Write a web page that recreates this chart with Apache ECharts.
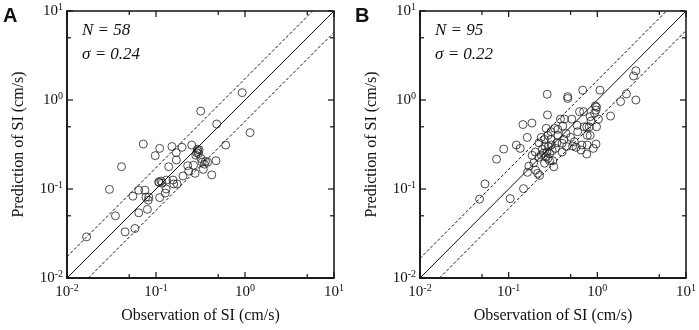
<!DOCTYPE html>
<html>
<head>
<meta charset="utf-8">
<script src="https://cdn.jsdelivr.net/npm/echarts@6/dist/echarts.min.js"></script>
<style>html,body{margin:0;padding:0;background:#fff}#c{width:699px;height:330px}</style>
</head>
<body>
<div id="c"></div>
<script>
// ---- data ----
var panelLabels = ['A', 'B'];
var nCounts = [58, 95];
var sigmas = [0.24, 0.22];
var majorTicks = [0.01, 0.1, 1, 10];
var minorTicks = [0.05, 0.5, 5];
var xTitle = 'Observation of SI (cm/s)';
var yTitle = 'Prediction of SI (cm/s)';

var obsA = [0.0166,0.030,0.035,0.041,0.045,0.058,0.055,0.064,0.064,0.075,0.077,0.080,0.083,0.082,0.072,0.098,0.110,0.110,0.107,0.109,0.114,0.117,0.127,0.130,0.131,0.139,0.151,0.155,0.158,0.169,0.169,0.173,0.196,0.201,0.227,0.233,0.252,0.264,0.275,0.286,0.295,0.300,0.305,0.292,0.33,0.35,0.36,0.38,0.34,0.423,0.472,0.607,0.93,0.318,0.481,1.14,0.28,0.32];
var predA = [0.029,0.099,0.050,0.178,0.033,0.036,0.083,0.097,0.054,0.097,0.081,0.059,0.081,0.075,0.32,0.237,0.286,0.080,0.120,0.118,0.123,0.116,0.090,0.100,0.126,0.178,0.30,0.126,0.114,0.256,0.212,0.114,0.294,0.140,0.183,0.159,0.312,0.185,0.150,0.256,0.265,0.250,0.275,0.280,0.20,0.19,0.205,0.20,0.166,0.144,0.208,0.312,1.21,0.75,0.537,0.43,0.24,0.22];

var obsB = [0.047,0.054,0.073,0.088,0.104,0.122,0.135,0.147,0.163,0.169,0.184,0.192,0.201,0.212,0.223,0.219,0.233,0.247,0.254,0.256,0.277,0.289,0.302,0.315,0.323,0.337,0.401,0.401,0.527,0.575,0.655,0.671,0.76,0.77,0.90,0.966,0.272,0.463,0.463,0.684,1.07,2.72,2.56,2.13,1.83,2.72,1.41,0.95,0.98,0.966,0.93,1.03,0.83,0.63,0.70,0.274,0.384,0.426,0.515,0.145,0.183,0.162,0.265,0.233,0.254,0.277,0.30,0.33,0.358,0.407,0.444,0.59,0.71,0.76,0.81,0.98,0.60,0.77,0.83,0.24,0.27,0.29,0.31,0.26,0.35,0.36,0.30,0.22,0.28,0.50,0.45,0.55,0.85,0.20,0.42];
var predB = [0.077,0.114,0.216,0.281,0.078,0.312,0.286,0.101,0.154,0.181,0.239,0.197,0.163,0.150,0.142,0.227,0.241,0.252,0.195,0.304,0.221,0.208,0.312,0.208,0.178,0.286,0.260,0.327,0.304,0.294,0.274,0.312,0.247,0.312,0.286,0.32,1.16,1.09,1.04,1.29,1.29,2.13,1.86,1.17,0.96,1.0,0.66,0.86,0.83,0.77,0.71,0.61,0.65,0.74,0.74,0.68,0.61,0.61,0.61,0.53,0.55,0.38,0.48,0.38,0.36,0.40,0.44,0.48,0.468,0.51,0.42,0.52,0.50,0.50,0.50,0.50,0.44,0.40,0.40,0.28,0.26,0.25,0.27,0.23,0.33,0.40,0.36,0.33,0.30,0.38,0.30,0.34,0.58,0.26,0.36];

var axisMin = 0.01, axisMax = 10;
// ---- chart (log10 value axes) ----
var L = Math.log10;
var LO = L(axisMin), HI = L(axisMax);
var serif = '"Liberation Serif", "Times New Roman", serif';
var gridLefts = [67, 420];
var grids = [], xAxes = [], yAxes = [], series = [], graphics = [];
var black = '#111';
var tickData = majorTicks.map(function (v) { return [L(v), 1]; })
  .concat(minorTicks.map(function (v) { return [L(v), 0]; }));

function lblFmt(v) {
  return '{b|10}{s|' + Math.round(v) + '}';
}
var richLbl = {
  b: { fontFamily: serif, fontSize: 15, color: black, lineHeight: 18 },
  s: { fontFamily: serif, fontSize: 10, color: black, verticalAlign: 'top', lineHeight: 18, padding: [0, 0, 6, 0] }
};

function mkAxis(dim, gi) {
  return {
    type: 'value', min: LO, max: HI, interval: 1, gridIndex: gi,
    splitLine: { show: false },
    axisLine: { show: true, onZero: false, lineStyle: { color: black, width: 1.5 } },
    axisTick: { show: false },
    axisLabel: { show: true, formatter: lblFmt, rich: richLbl, margin: dim === 'x' ? 5 : 4 },
    name: dim === 'x' ? xTitle : yTitle,
    nameLocation: 'middle',
    nameGap: dim === 'x' ? 30 : 40,
    nameTextStyle: { fontFamily: serif, fontSize: 16, color: black }
  };
}

function renderTicks(params, api) {
  var v = api.value(0), len = api.value(1) ? 6 : 4;
  var b = api.coord([v, LO]), t = api.coord([v, HI]), l = api.coord([LO, v]), r = api.coord([HI, v]);
  var st = { stroke: black, lineWidth: 1.2 };
  return { type: 'group', children: [
    { type: 'line', shape: { x1: b[0], y1: b[1], x2: b[0], y2: b[1] - len }, style: st },
    { type: 'line', shape: { x1: t[0], y1: t[1], x2: t[0], y2: t[1] + len }, style: st },
    { type: 'line', shape: { x1: l[0], y1: l[1], x2: l[0] + len, y2: l[1] }, style: st },
    { type: 'line', shape: { x1: r[0], y1: r[1], x2: r[0] - len, y2: r[1] }, style: st }
  ] };
}

var obsList = [obsA, obsB], predList = [predA, predB];
for (var gi = 0; gi < 2; gi++) {
  grids.push({ left: gridLefts[gi], top: 11, width: 267, height: 267, show: true, borderColor: black, borderWidth: 1.5, backgroundColor: 'transparent' });
  xAxes.push(mkAxis('x', gi));
  yAxes.push(mkAxis('y', gi));

  var s = sigmas[gi];
  var lines = [
    { d: [[LO, LO], [HI, HI]], type: 'solid' },
    { d: [[LO, LO + s], [HI - s, HI]], type: [3, 2] },
    { d: [[LO + s, LO], [HI, HI - s]], type: [3, 2] }
  ];
  lines.forEach(function (l) {
    series.push({ type: 'line', xAxisIndex: gi, yAxisIndex: gi, data: l.d, symbol: 'none', silent: true,
      lineStyle: { color: black, width: 1, type: l.type }, animation: false });
  });
  var pts = obsList[gi].map(function (o, i) { return [L(o), L(predList[gi][i])]; });
  series.push({ type: 'scatter', xAxisIndex: gi, yAxisIndex: gi, data: pts, symbol: 'circle', symbolSize: 8,
    itemStyle: { color: 'rgba(0,0,0,0)', borderColor: '#222', borderWidth: 1 }, animation: false });
  series.push({ type: 'custom', xAxisIndex: gi, yAxisIndex: gi, data: tickData, renderItem: renderTicks,
    silent: true, clip: false, z: 5, animation: false });

  var gx = gridLefts[gi];
  graphics.push({ type: 'text', left: gx + 15, top: 22, style: { text: 'N = ' + nCounts[gi], font: 'italic 17px ' + serif, fill: black } });
  graphics.push({ type: 'text', left: gx + 15, top: 46, style: { text: '\u03c3 = ' + sigmas[gi].toFixed(2), font: 'italic 17px ' + serif, fill: black } });
  graphics.push({ type: 'text', left: gi === 0 ? 3 : 355, top: 6, style: { text: panelLabels[gi], font: 'bold 20px "Liberation Sans", Arial, sans-serif', fill: black } });
}

var chart = echarts.init(document.getElementById('c'));
chart.setOption({
  animation: false,
  backgroundColor: '#fff',
  grid: grids, xAxis: xAxes, yAxis: yAxes, series: series, graphic: graphics
});
</script>
</body>
</html>
